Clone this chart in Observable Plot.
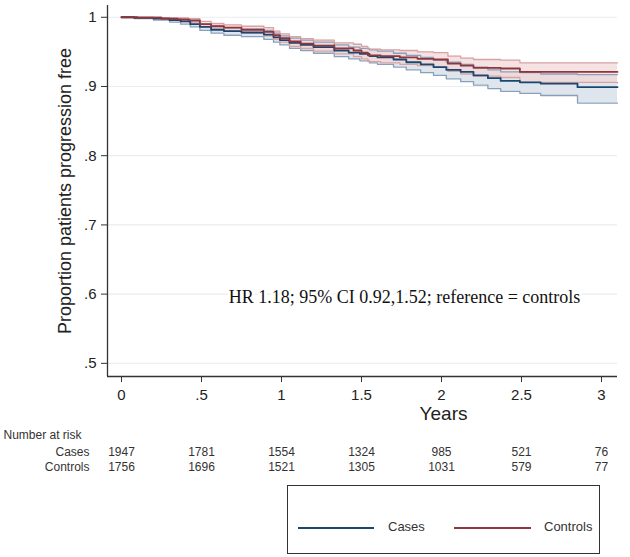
<!DOCTYPE html>
<html><head><meta charset="utf-8">
<script src="https://cdn.jsdelivr.net/npm/d3@7"></script>
<script src="https://cdn.jsdelivr.net/npm/@observablehq/plot@0.6"></script>
<style>
body{margin:0;background:#fff;font-family:"Liberation Sans",Arial,sans-serif;}
#wrap{position:relative;width:630px;height:557px;}
#legend{position:absolute;left:287px;top:485px;width:311px;height:67px;border:1px solid #333;box-sizing:content-box;}
.sw{position:absolute;top:41px;height:2px;}
.lt{position:absolute;top:33px;font-size:13px;color:#333;}
</style></head><body>
<div id="wrap"><div id="chart"></div>
<div id="legend">
<div class="sw" style="left:10px;width:76px;background:#1a476f"></div><div class="lt" style="left:100px">Cases</div>
<div class="sw" style="left:166px;width:77px;background:#90353b"></div><div class="lt" style="left:256px">Controls</div>
</div></div>
<script>
// Cases (blue)
const casesT  = [0,0.08,0.2,0.3,0.37,0.43,0.49,0.56,0.64,0.75,0.89,0.95,0.99,1.05,1.12,1.2,1.33,1.42,1.49,1.55,1.6,1.7,1.78,1.87,1.95,2.03,2.12,2.2,2.29,2.37,2.49,2.62,2.85,3.1];
const casesS  = [1,0.999,0.998,0.996,0.994,0.99,0.986,0.982,0.98,0.978,0.975,0.971,0.967,0.963,0.96,0.957,0.952,0.949,0.947,0.944,0.942,0.939,0.935,0.932,0.928,0.924,0.921,0.916,0.912,0.908,0.906,0.904,0.899,0.899];
const casesLo = [1,0.998,0.996,0.993,0.99,0.986,0.981,0.977,0.974,0.972,0.968,0.964,0.96,0.955,0.952,0.948,0.943,0.94,0.937,0.934,0.932,0.928,0.924,0.92,0.916,0.911,0.907,0.902,0.897,0.893,0.89,0.887,0.876,0.876];
const casesHi = [1,1,0.999,0.998,0.997,0.994,0.99,0.987,0.985,0.983,0.981,0.977,0.973,0.97,0.967,0.964,0.96,0.957,0.955,0.953,0.951,0.948,0.945,0.942,0.938,0.935,0.932,0.928,0.924,0.921,0.92,0.918,0.917,0.917];
// Controls (red)
const ctrlT  = [0,0.1,0.25,0.35,0.42,0.49,0.56,0.64,0.75,0.89,0.95,0.99,1.05,1.12,1.2,1.33,1.45,1.5,1.54,1.62,1.74,1.85,1.95,2.04,2.12,2.2,2.37,2.49,3.1];
const ctrlS  = [1,0.9995,0.998,0.997,0.9956,0.99,0.987,0.985,0.982,0.979,0.974,0.97,0.965,0.962,0.959,0.955,0.952,0.949,0.945,0.944,0.942,0.94,0.939,0.933,0.93,0.927,0.926,0.921,0.921];
const ctrlLo = [1,0.999,0.997,0.995,0.993,0.986,0.983,0.98,0.977,0.973,0.968,0.964,0.958,0.955,0.951,0.947,0.943,0.94,0.936,0.934,0.932,0.93,0.928,0.922,0.918,0.915,0.913,0.906,0.905];
const ctrlHi = [1,1,0.999,0.999,0.998,0.994,0.991,0.989,0.987,0.985,0.98,0.976,0.972,0.969,0.967,0.963,0.961,0.958,0.954,0.953,0.952,0.95,0.949,0.944,0.941,0.939,0.938,0.934,0.934];
// axes & risk table
const xTicks = [0,0.5,1,1.5,2,2.5,3];
const yTicks = [0.5,0.6,0.7,0.8,0.9,1];
const xDomain = [-0.0875,3.1];
const yDomain = [0.481,1.017];
const riskCases = [1947,1781,1554,1324,985,521,76];
const riskCtrl  = [1756,1696,1521,1305,1031,579,77];
const hrText = "HR 1.18; 95% CI 0.92,1.52; reference = controls";
const hrPos = {x:0.67, y:0.596};

const mk = (T,S,L,H) => T.map((t,i)=>({t, s:S[i], lo:L[i], hi:H[i]}));
const cases = mk(casesT,casesS,casesLo,casesHi);
const ctrl = mk(ctrlT,ctrlS,ctrlLo,ctrlHi);
const fmt = d => d===0 ? "0" : String(d).replace(/^0/,"");
const risk = (arr) => xTicks.map((t,i)=>({t, n:String(arr[i])}));

const chart = Plot.plot({
  width:630, height:480,
  marginTop:5, marginBottom:104, marginLeft:107, marginRight:13,
  style:{fontFamily:"Liberation Sans, Arial, sans-serif", color:"#222", background:"white"},
  x:{domain:xDomain},
  y:{domain:yDomain},
  marks:[
    Plot.gridY(yTicks,{stroke:"#e8eef1", strokeOpacity:1, strokeWidth:1.2}),
    Plot.areaY(cases,{x:"t", y1:"lo", y2:"hi", curve:"step-after", fill:"#dbe2ea", fillOpacity:0.9}),
    Plot.areaY(ctrl,{x:"t", y1:"lo", y2:"hi", curve:"step-after", fill:"#f1d5d6", fillOpacity:0.7}),
    Plot.line(cases,{x:"t", y:"lo", curve:"step-after", stroke:"#8aa0ba", strokeWidth:1.3}),
    Plot.line(cases,{x:"t", y:"hi", curve:"step-after", stroke:"#8aa0ba", strokeWidth:1.3}),
    Plot.line(ctrl,{x:"t", y:"lo", curve:"step-after", stroke:"#d9a3a5", strokeWidth:1.3}),
    Plot.line(ctrl,{x:"t", y:"hi", curve:"step-after", stroke:"#d9a3a5", strokeWidth:1.3}),
    Plot.line(cases,{x:"t", y:"s", curve:"step-after", stroke:"#1a476f", strokeWidth:1.8}),
    Plot.line(ctrl,{x:"t", y:"s", curve:"step-after", stroke:"#90353b", strokeWidth:1.8}),
    Plot.text([hrText],{x:()=>hrPos.x, y:()=>hrPos.y, textAnchor:"start", fontFamily:"Liberation Serif, Times New Roman, serif", fontSize:18, fill:"#111", stroke:"white", strokeWidth:6}),
    Plot.ruleX([xDomain[0]],{stroke:"#333", strokeWidth:1.3}),
    Plot.ruleY([yDomain[0]],{stroke:"#333", strokeWidth:1.3}),
    Plot.axisY(yTicks,{tickSize:6, tickPadding:5, tickFormat:fmt, fontSize:15, label:null, stroke:"#333"}),
    Plot.axisX(xTicks,{tickSize:6, tickPadding:7, tickFormat:fmt, fontSize:15, label:null, stroke:"#333"}),
    Plot.text(["Proportion patients progression free"],{frameAnchor:"left", textAnchor:"middle", rotate:-90, dx:-42, fontSize:18, fill:"#222"}),
    Plot.text(["Years"],{frameAnchor:"bottom", dx:81, dy:43, fontSize:19, fill:"#222"}),
    Plot.text(["Number at risk"],{frameAnchor:"bottom-left", dx:-104, dy:62, textAnchor:"start", fontSize:12, fill:"#333"}),
    Plot.text(["Cases"],{frameAnchor:"bottom-left", dx:-18, dy:79, textAnchor:"end", fontSize:12, fill:"#333"}),
    Plot.text(["Controls"],{frameAnchor:"bottom-left", dx:-18, dy:94, textAnchor:"end", fontSize:12, fill:"#333"}),
    Plot.text(risk(riskCases),{x:"t", text:"n", frameAnchor:"bottom", dy:79, fontSize:12, fill:"#333"}),
    Plot.text(risk(riskCtrl),{x:"t", text:"n", frameAnchor:"bottom", dy:94, fontSize:12, fill:"#333"})
  ]
});
document.getElementById("chart").appendChild(chart);
</script></body></html>
